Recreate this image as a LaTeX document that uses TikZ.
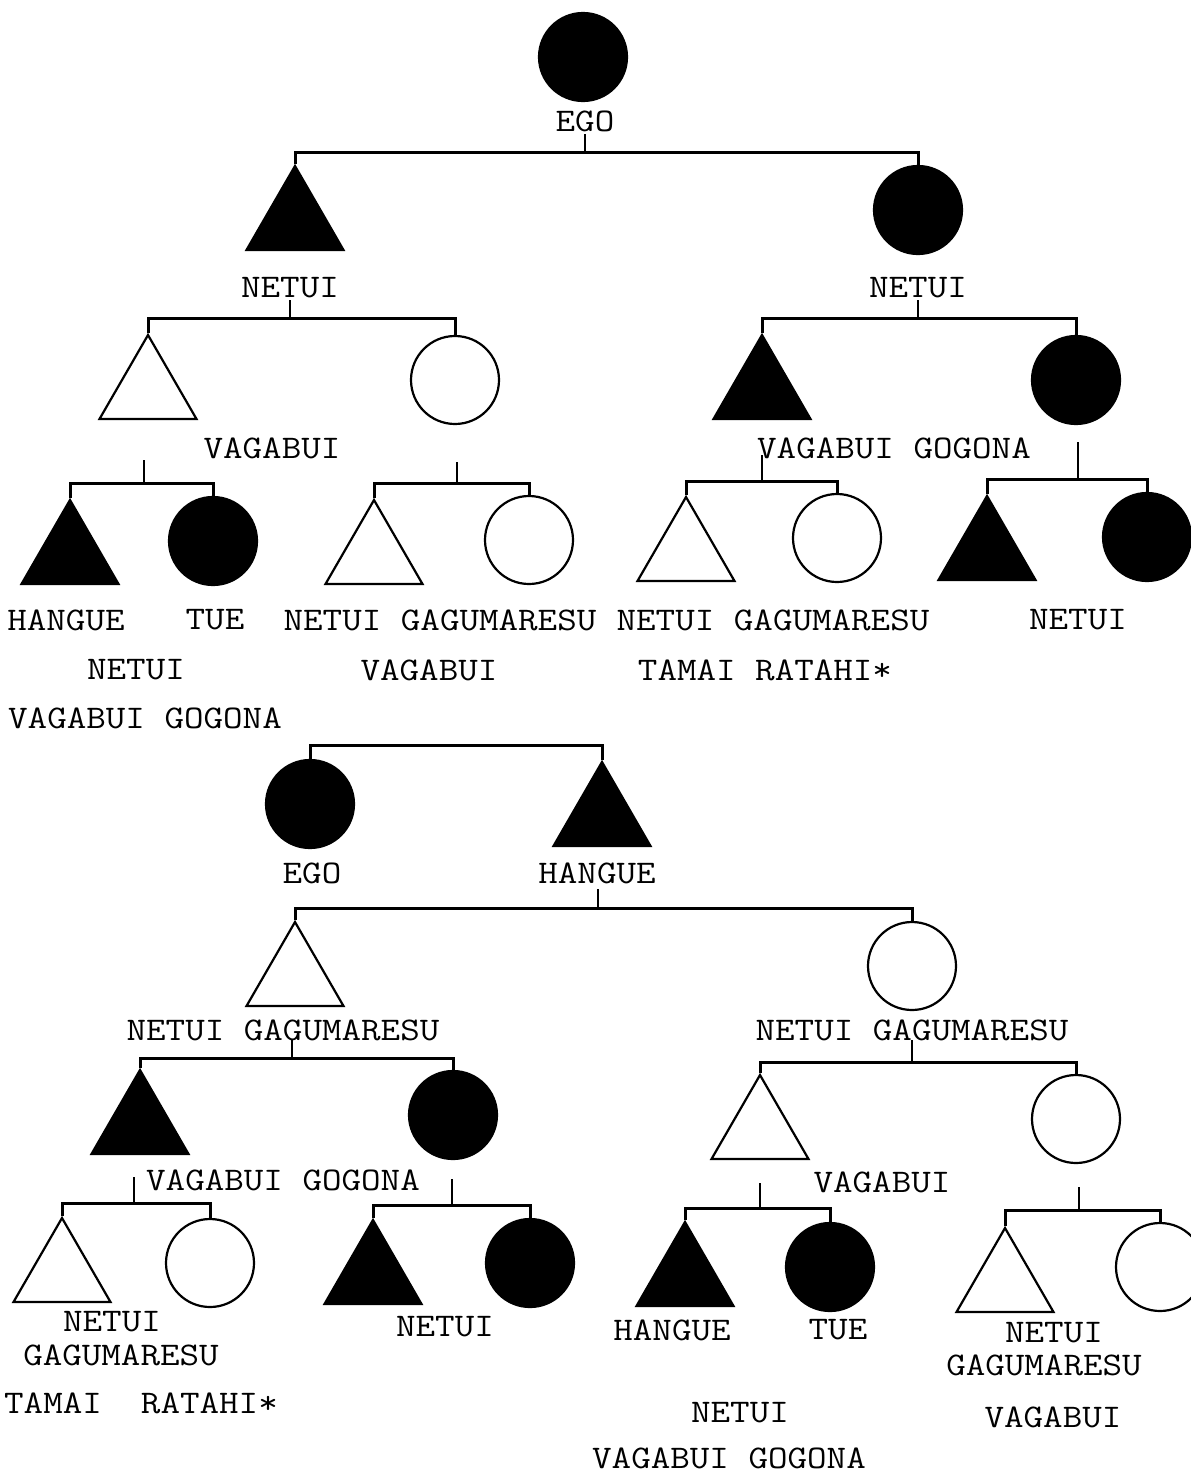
\documentclass[tikz,border=0pt]{standalone}
\usepackage{fontspec}
\newfontfamily\tw[FakeStretch=1.15]{Latin Modern Mono}
\usetikzlibrary{shapes.geometric}
\begin{document}
\begin{tikzpicture}[x=1pt,y=-1pt,line width=2.2pt,
  fcirc/.style={circle,draw,fill=black,minimum size=88pt,inner sep=0pt},
  ocirc/.style={circle,draw,fill=white,minimum size=88pt,inner sep=0pt},
  ftri/.style={regular polygon,regular polygon sides=3,draw,fill=black,minimum size=112pt,inner sep=0pt},
  otri/.style={regular polygon,regular polygon sides=3,draw,fill=white,minimum size=112pt,inner sep=0pt},
  lab/.style={font=\tw\fontsize{33}{36}\selectfont,inner sep=0pt},
  link/.style={line width=2.2pt},
  bar/.style={line width=3pt}]
\useasboundingbox (0,0) rectangle (1191,1475);
\fill[white] (0,0) rectangle (1191,1475);

% ---------------- top tree ----------------
\node[fcirc] (egoA) at (583,57) {};
\node[lab] (egoAl) at (585,121) {EGO};
\coordinate (s1) at (585,134); \coordinate (b1) at (585,152);
\node[ftri] (a1) at (295,222) {};
\node[fcirc] (a2) at (918,210) {};
\draw[bar] (a1.north) |- (b1) -| (a2.north);
\draw[link] (s1) -- (b1);
\node[lab] (a1l) at (290,288) {NETUI};
\node[lab] (a2l) at (918,288) {NETUI};

% family under left NETUI
\coordinate (s2) at (290,300); \coordinate (b2) at (290,318);
\node[otri] (c1) at (148,391) {};
\node[ocirc] (c2) at (455,380) {};
\draw[bar] (c1.north) |- (b2) -| (c2.north);
\draw[link] (s2) -- (b2);
\node[lab] (c1l) at (272,448) {VAGABUI};

% under open triangle c1
\coordinate (s3) at (144,460); \coordinate (b3) at (144,483);
\node[ftri] (d1) at (70,556) {};
\node[fcirc] (d2) at (213,541) {};
\draw[bar] (d1.north) |- (b3) -| (d2.north);
\draw[link] (s3) -- (b3);
\node[lab] (d1l) at (66,620) {HANGUE};
\node[lab] (d2l) at (215,620) {TUE};
\node[lab] (d3l) at (136,670) {NETUI};
\node[lab] (d4l) at (145,718) {VAGABUI GOGONA};

% under open circle c2
\coordinate (s4) at (457,462); \coordinate (b4) at (457,483);
\node[otri] (e1) at (374,556) {};
\node[ocirc] (e2) at (529,540) {};
\draw[bar] (e1.north) |- (b4) -| (e2.north);
\draw[link] (s4) -- (b4);
\node[lab] (e1l) at (440,620) {NETUI GAGUMARESU};
\node[lab] (e2l) at (429,670) {VAGABUI};

% family under right NETUI
\coordinate (s5) at (918,300); \coordinate (b5) at (918,318);
\node[ftri] (f1) at (762,391) {};
\node[fcirc] (f2) at (1076,380) {};
\draw[bar] (f1.north) |- (b5) -| (f2.north);
\draw[link] (s5) -- (b5);
\node[lab] (f1l) at (894,448) {VAGABUI GOGONA};

% under filled triangle f1
\coordinate (s6) at (762,455); \coordinate (b6) at (762,481);
\node[otri] (g1) at (686,553) {};
\node[ocirc] (g2) at (837,538) {};
\draw[bar] (g1.north) |- (b6) -| (g2.north);
\draw[link] (s6) -- (b6);
\node[lab] (g1l) at (773,620) {NETUI GAGUMARESU};
\node[lab] (g2l) at (765,670) {TAMAI RATAHI*};

% under filled circle f2
\coordinate (s7) at (1078,442); \coordinate (b7) at (1078,479);
\node[ftri] (h1) at (987,552) {};
\node[fcirc] (h2) at (1147,537) {};
\draw[bar] (h1.north) |- (b7) -| (h2.north);
\draw[link] (s7) -- (b7);
\node[lab] (h1l) at (1078,620) {NETUI};

% ---------------- bottom tree ----------------
\coordinate (b8) at (456,745);
\node[fcirc] (egoB) at (310,804) {};
\node[ftri] (hB) at (602,818) {};
\draw[bar] (egoB.north) |- (b8) -| (hB.north);
\node[lab] (egoBl) at (312,873) {EGO};
\node[lab] (hBl) at (597,873) {HANGUE};

% under HANGUE
\coordinate (s9) at (598,889); \coordinate (b9) at (598,908);
\node[otri] (i1) at (295,978) {};
\node[ocirc] (i2) at (912,966) {};
\draw[bar] (i1.north) |- (b9) -| (i2.north);
\draw[link] (s9) -- (b9);
\node[lab] (i1l) at (283,1030) {NETUI GAGUMARESU};
\node[lab] (i2l) at (912,1030) {NETUI GAGUMARESU};

% under left NETUI GAGUMARESU
\coordinate (s10) at (292,1040); \coordinate (b10) at (292,1058);
\node[ftri] (j1) at (140,1126) {};
\node[fcirc] (j2) at (453,1115) {};
\draw[bar] (j1.north) |- (b10) -| (j2.north);
\draw[link] (s10) -- (b10);
\node[lab] (j1l) at (283,1180) {VAGABUI GOGONA};

% under filled triangle j1
\coordinate (s11) at (134,1177); \coordinate (b11) at (134,1203);
\node[otri] (k1) at (62,1274) {};
\node[ocirc] (k2) at (210,1263) {};
\draw[bar] (k1.north) |- (b11) -| (k2.north);
\draw[link] (s11) -- (b11);
\node[lab] (k1l) at (112,1322) {NETUI};
\node[lab] (k2l) at (121,1355) {GAGUMARESU};
\node[lab] (k3l) at (141,1403) {TAMAI~~RATAHI*};

% under filled circle j2
\coordinate (s12) at (452,1179); \coordinate (b12) at (452,1205);
\node[ftri] (l1) at (373,1276) {};
\node[fcirc] (l2) at (530,1263) {};
\draw[bar] (l1.north) |- (b12) -| (l2.north);
\draw[link] (s12) -- (b12);
\node[lab] (l1l) at (445,1327) {NETUI};

% under right NETUI GAGUMARESU
\coordinate (s13) at (912,1040); \coordinate (b13) at (912,1062);
\node[otri] (m1) at (760,1131) {};
\node[ocirc] (m2) at (1076,1119) {};
\draw[bar] (m1.north) |- (b13) -| (m2.north);
\draw[link] (s13) -- (b13);
\node[lab] (m1l) at (882,1182) {VAGABUI};

% under open triangle m1
\coordinate (s14) at (760,1183); \coordinate (b14) at (760,1208);
\node[ftri] (n1) at (685,1278) {};
\node[fcirc] (n2) at (830,1267) {};
\draw[bar] (n1.north) |- (b14) -| (n2.north);
\draw[link] (s14) -- (b14);
\node[lab] (n1l) at (672,1330) {HANGUE};
\node[lab] (n2l) at (838,1330) {TUE};
\node[lab] (n3l) at (740,1413) {NETUI};
\node[lab] (n4l) at (729,1458) {VAGABUI GOGONA};

% under open circle m2
\coordinate (s15) at (1079,1187); \coordinate (b15) at (1079,1210);
\node[otri] (o1) at (1005,1284) {};
\node[ocirc] (o2) at (1160,1267) {};
\draw[bar] (o1.north) |- (b15) -| (o2.north);
\draw[link] (s15) -- (b15);
\node[lab] (o1l) at (1054,1333) {NETUI};
\node[lab] (o2l) at (1044,1365) {GAGUMARESU};
\node[lab] (o3l) at (1053,1417) {VAGABUI};
\end{tikzpicture}
\end{document}
